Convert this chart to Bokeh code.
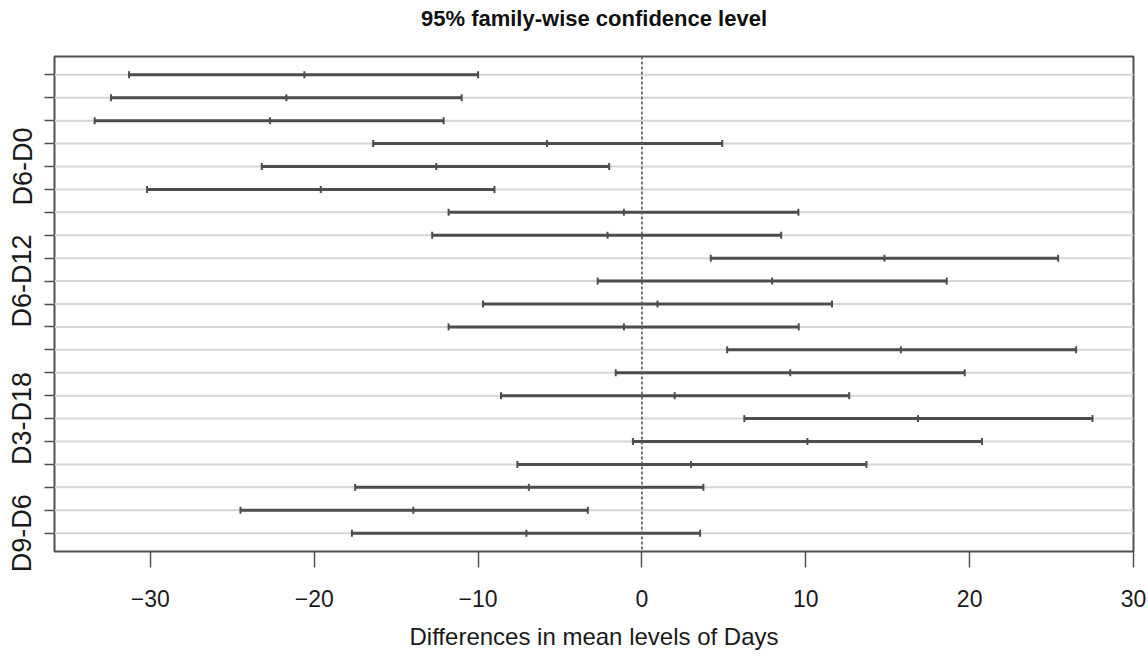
import math
from bokeh.plotting import figure
from bokeh.models import ColumnDataSource, FixedTicker, Range1d, Span, Title
from bokeh.embed import file_html
from bokeh.resources import INLINE

# Tukey HSD comparisons, in R's order (top row first)
comparisons = ["D12-D0", "D15-D0", "D18-D0", "D3-D0", "D6-D0", "D9-D0",
               "D15-D12", "D18-D12", "D3-D12", "D6-D12", "D9-D12",
               "D18-D15", "D3-D15", "D6-D15", "D9-D15",
               "D3-D18", "D6-D18", "D9-D18",
               "D6-D3", "D9-D3", "D9-D6"]
diff = [-20.6, -21.7, -22.7, -5.8, -12.55, -19.6,
        -1.1, -2.1, 14.8, 7.95, 0.95,
        -1.1, 15.8, 9.05, 2.0,
        16.85, 10.1, 3.0,
        -6.9, -13.95, -7.05]
lwr = [-31.3, -32.4, -33.4, -16.4, -23.2, -30.2,
       -11.8, -12.8, 4.2, -2.7, -9.7,
       -11.8, 5.2, -1.6, -8.6,
       6.25, -0.55, -7.6,
       -17.5, -24.5, -17.7]
upr = [-10.0, -11.0, -12.1, 4.9, -2.0, -9.0,
       9.55, 8.5, 25.4, 18.6, 11.6,
       9.57, 26.5, 19.7, 12.65,
       27.5, 20.75, 13.7,
       3.75, -3.3, 3.55]
# labels that R manages to draw without overlap
shown_labels = ["D6-D0", "D6-D12", "D3-D18", "D9-D6"]
x_ticks = [-30, -20, -10, 0, 10, 20, 30]
title_text = "95% family-wise confidence level"

n = len(comparisons)
yvals = [n - i for i in range(n)]

src = ColumnDataSource(dict(name=comparisons, diff=diff, lwr=lwr, upr=upr, y=yvals))

FONT = "Liberation Sans"
X0, X1 = -35.85, 30.0
Y0, Y1 = 0.2, n + 0.8
p = figure(width=1148, height=659, output_backend="svg", toolbar_location=None,
           x_range=Range1d(X0, X1), y_range=Range1d(Y0, Y1),
           min_border_left=54, min_border_right=15, min_border_top=56, min_border_bottom=108)

# spacer between frame and title (closest to the frame)
p.add_layout(Title(text=" ", text_font_size="10px", standoff=13), "above")

p.title.text = title_text
p.title.align = "center"
p.title.text_font = FONT
p.title.text_font_size = "22px"
p.title.text_font_style = "bold"
p.title.text_color = "#111111"
p.title.standoff = 0

p.xgrid.visible = False
p.ygrid.visible = False
p.outline_line_color = "#505050"
p.outline_line_width = 2
p.background_fill_color = "white"
p.border_fill_color = "white"

# light gray horizontal guide lines at each comparison
p.segment(x0=X0, x1=X1, y0="y", y1="y", source=src,
          line_color="#d6d6d6", line_width=2)

# zero line
p.add_layout(Span(location=0, dimension="height", line_color="#5e5e5e",
                  line_width=1.7, line_dash="3 2"))

# intervals
p.segment(x0="lwr", x1="upr", y0="y", y1="y", source=src,
          line_color="#4d4d4d", line_width=3)
for col in ["lwr", "diff", "upr"]:
    p.scatter(x=col, y="y", source=src, marker="dash", angle=math.pi / 2,
              size=7, line_color="#4d4d4d", line_width=2)

# x axis
p.xaxis.ticker = FixedTicker(ticks=x_ticks)
p.xaxis.axis_label = "Differences in mean levels of Days"
p.xaxis.axis_label_text_font = FONT
p.xaxis.axis_label_text_font_size = "24px"
p.xaxis.axis_label_text_font_style = "normal"
p.xaxis.axis_label_text_color = "#1a1a1a"
p.xaxis.axis_label_standoff = 13
p.xaxis.major_label_text_font = FONT
p.xaxis.major_label_text_font_size = "23px"
p.xaxis.major_label_text_color = "#1a1a1a"
p.xaxis.major_label_standoff = 22
p.xaxis.major_tick_out = 16
p.xaxis.major_tick_in = 0
p.xaxis.minor_tick_line_color = None
p.xaxis.axis_line_color = None
p.xaxis.major_tick_line_color = "#505050"
p.xaxis.major_tick_line_width = 1.5

# y axis
p.yaxis.ticker = FixedTicker(ticks=yvals)
p.yaxis.major_label_overrides = {
    y: (name if name in shown_labels else "") for y, name in zip(yvals, comparisons)
}
p.yaxis.major_label_orientation = "vertical"
p.yaxis.major_label_text_font = FONT
p.yaxis.major_label_text_font_size = "27px"
p.yaxis.major_label_text_color = "#1a1a1a"
p.yaxis.major_label_standoff = 7
p.yaxis.major_tick_out = 10
p.yaxis.major_tick_in = 0
p.yaxis.minor_tick_line_color = None
p.yaxis.axis_line_color = None
p.yaxis.major_tick_line_color = "#505050"
p.yaxis.major_tick_line_width = 1.5

open("out.html", "w").write(file_html(p, INLINE))
